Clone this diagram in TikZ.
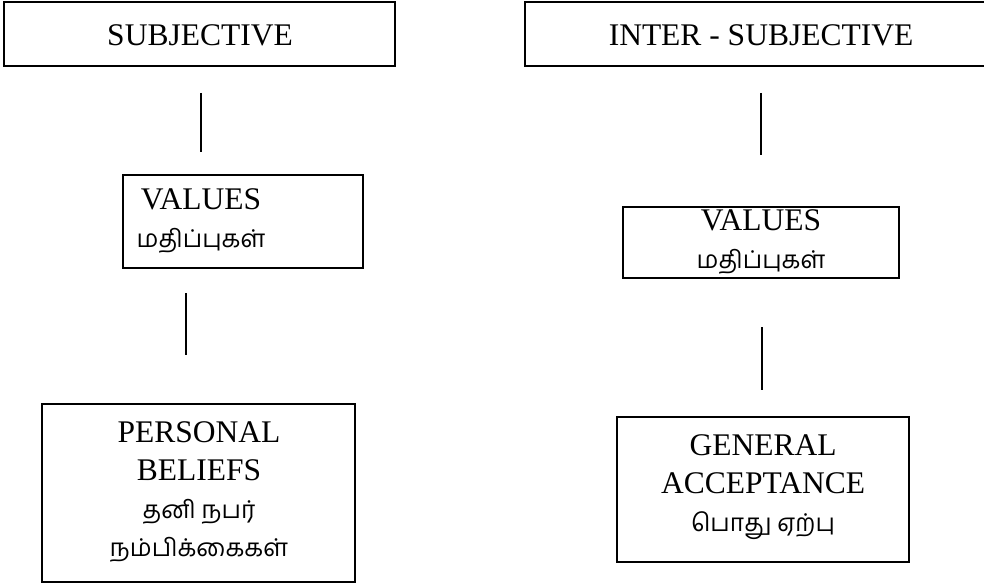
\documentclass[tikz,border=0pt]{standalone}
\usepackage{fontspec}
\setmainfont{Liberation Serif}
\newfontfamily\tamilfont[Script=Tamil]{Hind Madurai}
\newcommand{\tam}[1]{{\tamilfont\fontsize{24.5}{35}\selectfont #1}}
\tikzset{
  box/.style={draw, line width=1.6pt, inner sep=0pt},
  txt/.style={inner sep=0pt, align=center, font=\fontsize{31.5}{38}\selectfont},
  conn/.style={line width=1.1pt}
}
\begin{document}
\begin{tikzpicture}[x=1pt, y=-1pt]
  \useasboundingbox (0,0) rectangle (984,588);

  % top row
  \node[box, minimum width=391, minimum height=64] (subj) at (199.5,34) {};
  \node[txt] (subjT) at (200,35) {SUBJECTIVE};
  \node[box, minimum width=472, minimum height=64] (inter) at (761,34) {};
  \node[txt] (interT) at (761,35) {INTER - SUBJECTIVE};

  % middle row
  \node[box, minimum width=240, minimum height=93] (valL) at (243,221.5) {};
  \node[txt] (valLT) at (201,221) {VALUES\\\tam{மதிப்புகள்}};
  \node[box, minimum width=276, minimum height=71] (valR) at (761,242.5) {};
  \node[txt] (valRT) at (761,242) {VALUES\\\tam{மதிப்புகள்}};

  % bottom row
  \node[box, minimum width=313, minimum height=178] (pers) at (198.5,493) {};
  \node[txt] (persT) at (199,492) {PERSONAL\\BELIEFS\\\tam{தனி நபர்}\\\tam{நம்பிக்கைகள்}};
  \node[box, minimum width=292, minimum height=145] (gen) at (763,489.5) {};
  \node[txt] (genT) at (763,487) {GENERAL\\ACCEPTANCE\\\tam{பொது ஏற்பு}};

  % free-standing link segments
  \coordinate (l1a) at (201,93);  \coordinate (l1b) at (201,152);
  \coordinate (l2a) at (186,293); \coordinate (l2b) at (186,355);
  \coordinate (r1a) at (761,93);  \coordinate (r1b) at (761,155);
  \coordinate (r2a) at (762,327); \coordinate (r2b) at (762,390);
  \draw[conn] (l1a) -- (l1b);
  \draw[conn] (l2a) -- (l2b);
  \draw[conn] (r1a) -- (r1b);
  \draw[conn] (r2a) -- (r2b);
\end{tikzpicture}
\end{document}
